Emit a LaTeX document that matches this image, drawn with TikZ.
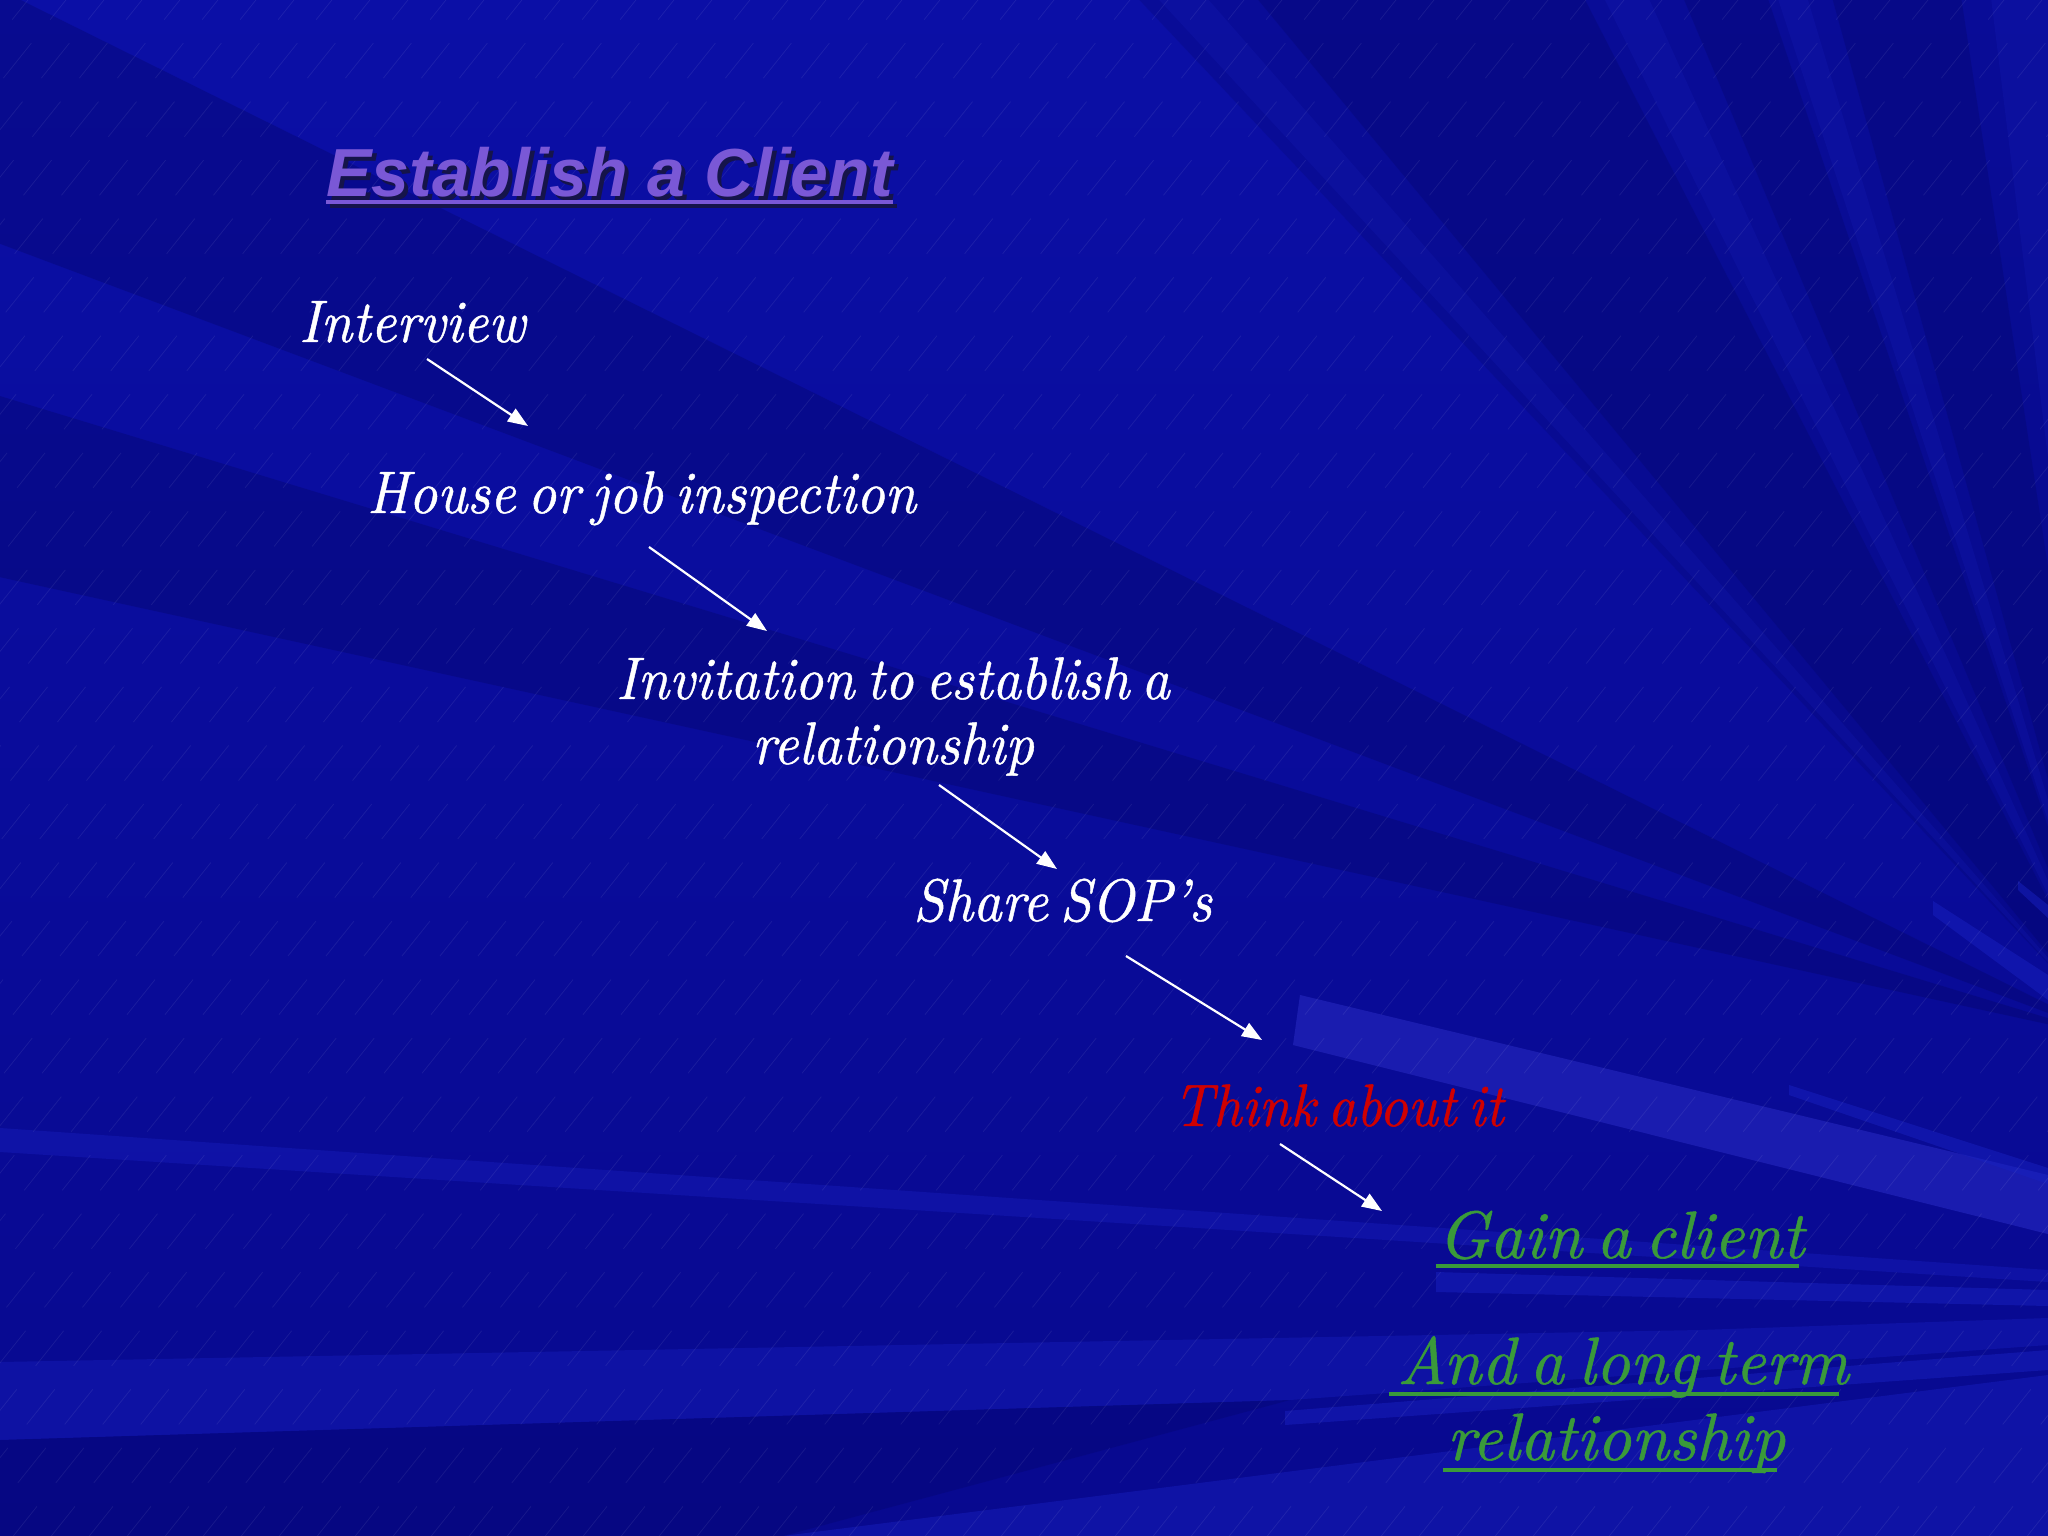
\documentclass[tikz,border=0pt]{standalone}
\usepackage{fontspec}
\usepackage{graphicx}
\usetikzlibrary{arrows.meta,calc}
\newfontfamily\titlefont{Liberation Sans}[BoldItalicFont={* Bold Italic}]
\newfontfamily\stepfont{lmroman10-italic.otf}[WordSpace=0.6, FakeBold=0.8]
\definecolor{bgtop}{HTML}{0B0FA6}
\definecolor{bgbot}{HTML}{08098F}
\definecolor{darkband}{HTML}{03045E}
\definecolor{lightband}{HTML}{1820C0}
\definecolor{wedge}{HTML}{1E20B4}
\definecolor{titlecol}{HTML}{7A58D6}
\definecolor{shadowcol}{HTML}{15144A}
\definecolor{thinkred}{HTML}{D00000}
\definecolor{gaingreen}{HTML}{3A9A3A}
\newcommand{\sqz}[1]{\scalebox{0.93}[1]{#1}}
\tikzset{
  stepnode/.style={text=white, inner sep=0pt, font=\stepfont\fontsize{60}{68}\selectfont},
  goalnode/.style={text=gaingreen, inner sep=0pt, font=\stepfont\fontsize{67}{76}\selectfont},
  flow/.style={white, line width=2.2pt, -{Triangle[length=20pt,width=15pt]}},
  goalline/.style={gaingreen, line width=4pt},
  dark/.style={fill=darkband, fill opacity=0.3},
  light/.style={fill=lightband, fill opacity=0.5}
}
\begin{document}
\begin{tikzpicture}[x=1pt,y=-1pt]
\useasboundingbox (0,0) rectangle (2048,1536);
\begin{scope}
\clip (0,0) rectangle (2048,1536);
\shade[top color=bgtop, bottom color=bgbot] (0,0) rectangle (2048,1536);
% dark rays converging at lower right
\coordinate (F) at (2120,1040);
\fill[dark] (F) -- (-60,-40) -- (-10,240) -- cycle;
\fill[dark] (F) -- (-10,393) -- (-10,575) -- cycle;
\fill[dark, fill opacity=0.2] (F) -- (1130,-10) -- (2060,-10) -- cycle;
\fill[dark, fill opacity=0.25] (F) -- (1250,-10) -- (1580,-10) -- cycle;
\fill[dark, fill opacity=0.25] (F) -- (1680,-10) -- (1765,-10) -- cycle;
\fill[dark, fill opacity=0.25] (F) -- (1830,-10) -- (1960,-10) -- cycle;
\fill[light, fill opacity=0.2] (F) -- (1150,-10) -- (1200,-10) -- cycle;
\fill[light, fill opacity=0.2] (F) -- (1600,-10) -- (1645,-10) -- cycle;
\fill[light, fill opacity=0.2] (F) -- (1775,-10) -- (1805,-10) -- cycle;
\fill[light, fill opacity=0.2] (F) -- (1990,-10) -- (2060,-10) -- cycle;
% light wedges at right
\fill[wedge, opacity=0.85] (1300,995) -- (1293,1045) -- (2048,1234) -- (2048,1175) -- cycle;
\fill[light] (1789,1085) -- (2048,1168) -- (2048,1184) -- (1789,1095) -- cycle;
\fill[light] (1933,901) -- (2048,975) -- (2048,1000) -- (1933,915) -- cycle;
\fill[light] (2018,881) -- (2048,905) -- (2048,918) -- (2018,890) -- cycle;
% bottom bands
\fill[light, fill opacity=0.4] (0,1128) -- (2048,1270) -- (2048,1282) -- (0,1152) -- cycle;
\fill[light] (1436,1272) -- (2048,1290) -- (2048,1306) -- (1436,1292) -- cycle;
\fill[light, fill opacity=0.4] (0,1362) -- (1700,1330) -- (2048,1318) -- (2048,1345) -- (1290,1400) -- (0,1440) -- cycle;
\fill[light] (1285,1411) -- (2048,1350) -- (2048,1370) -- (1285,1425) -- cycle;
\fill[light, fill opacity=0.45] (783,1536) -- (2048,1375) -- (2048,1536) -- cycle;
\fill[dark, fill opacity=0.25] (0,1440) -- (1290,1400) -- (783,1536) -- (0,1536) -- cycle;
% faint texture
\foreach \i in {-40,...,56} {
  \draw[white, opacity=0.07, line width=0.8pt, dash pattern=on 45pt off 30pt]
    (\i*38,1600) -- ++(1330,-1660);
}
\end{scope}
% title
\node[anchor=base west, inner sep=0pt, text=shadowcol, font=\titlefont\bfseries\itshape\fontsize{68}{80}\selectfont] (titleshadow) at (330,200) {Establish a Client};
\draw[shadowcol, line width=4pt] ($(titleshadow.base west)+(0,6)$) -- ($(titleshadow.base east)+(0,6)$);
\node[anchor=base west, inner sep=0pt, text=titlecol, font=\titlefont\bfseries\itshape\fontsize{68}{80}\selectfont] (title) at (326,196) {Establish a Client};
\draw[titlecol, line width=4pt] ($(title.base west)+(0,6)$) -- ($(title.base east)+(0,6)$);
% steps
\node[stepnode, anchor=base west] (interview) at (299,342) {\sqz{Interview}};
\node[stepnode, anchor=base west] (house) at (367,513) {\sqz{House or job inspection}};
\node[stepnode, anchor=base] (inv1) at (893,699) {\sqz{Invitation to establish a}};
\node[stepnode, anchor=base] (inv2) at (893,764) {\sqz{relationship}};
\node[stepnode, anchor=base west] (share) at (913,921) {\sqz{Share SOP’s}};
\node[stepnode, anchor=base west, text=thinkred] (think) at (1173,1126) {\sqz{Think about it}};
\node[goalnode, anchor=base] (gain) at (1621,1258) {Gain a client};
\node[goalnode, anchor=base] (long1) at (1623,1384) {And a long term};
\node[goalnode, anchor=base] (long2) at (1616,1460) {relationship};
\draw[goalline] ($(gain.base west)+(-2,8)$) -- ($(gain.base east)+(-6,8)$);
\draw[goalline] ($(long1.base west)+(-8,10)$) -- ($(long1.base east)+(-10,10)$);
\draw[goalline] ($(long2.base west)+(-4,10)$) -- ($(long2.base east)+(-8,10)$);
% arrows
\coordinate (a1s) at (427,359);  \coordinate (a1e) at (528,426);
\coordinate (a2s) at (649,547);  \coordinate (a2e) at (767,631);
\coordinate (a3s) at (939,785);  \coordinate (a3e) at (1057,869);
\coordinate (a4s) at (1126,956); \coordinate (a4e) at (1262,1040);
\coordinate (a5s) at (1280,1144);\coordinate (a5e) at (1382,1211);
\draw[flow] (a1s) -- (a1e);
\draw[flow] (a2s) -- (a2e);
\draw[flow] (a3s) -- (a3e);
\draw[flow] (a4s) -- (a4e);
\draw[flow] (a5s) -- (a5e);
\end{tikzpicture}
\end{document}
